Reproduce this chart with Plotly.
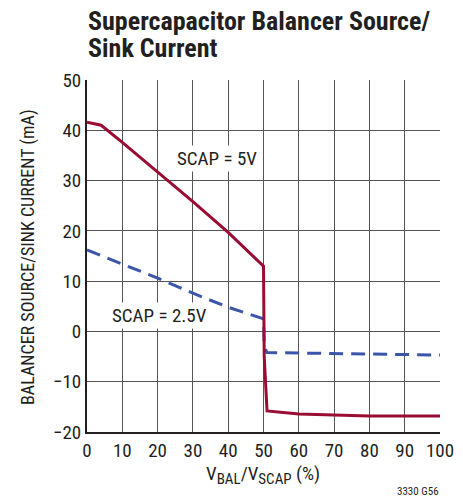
import plotly.graph_objects as go

# SCAP = 5V (red, solid)
x5 = [0, 4, 10, 20, 30, 40, 50, 50.2, 51, 60, 70, 80, 90, 100]
y5 = [41.6, 41.0, 37.6, 31.7, 25.8, 19.7, 13.0, -5.0, -15.8, -16.4, -16.6, -16.8, -16.8, -16.8]

# SCAP = 2.5V (blue, dashed)
x25 = [0, 10, 20, 30, 40, 50, 50.2, 51, 60, 70, 80, 90, 100]
y25 = [16.2, 13.4, 10.6, 7.6, 4.8, 2.5, -3.0, -4.2, -4.3, -4.4, -4.5, -4.6, -4.7]

x_ticks = [0, 10, 20, 30, 40, 50, 60, 70, 80, 90, 100]
y_ticks = [-20, -10, 0, 10, 20, 30, 40, 50]
y_ticktext = ["\u221220", "\u221210", "0", "10", "20", "30", "40", "50"]

FONT = "Liberation Sans Narrow, Roboto Condensed, Liberation Sans, Arial, sans-serif"
INK = "#231f20"

W, H = 463, 502
L, R, T, B = 87, 23, 80, 70
PH = H - T - B
PW = W - L - R

def py(p):  # pixel y -> paper y
    return (H - B - p) / PH

def px(p):  # pixel x -> paper x
    return (p - L) / PW

fig = go.Figure()
fig.add_trace(go.Scatter(x=x25, y=y25, mode="lines",
                         line=dict(color="#3b55a9", width=3, dash="14px,8px"),
                         showlegend=False))
fig.add_trace(go.Scatter(x=x5, y=y5, mode="lines",
                         line=dict(color="#9b0c34", width=3),
                         showlegend=False))

fig.add_annotation(x=36.8, y=34.4, text="SCAP = 5V", showarrow=False,
                   font=dict(size=19, color=INK, family=FONT),
                   bgcolor="white")
fig.add_annotation(x=20.5, y=3.2, text="SCAP = 2.5V", showarrow=False,
                   font=dict(size=19, color=INK, family=FONT),
                   bgcolor="white")

# title (two lines)
fig.add_annotation(xref="paper", yref="paper", x=px(86), y=py(21),
                   xanchor="left", yanchor="middle",
                   text="<b>Supercapacitor Balancer Source/</b>",
                   showarrow=False, font=dict(size=26, color=INK, family=FONT))
fig.add_annotation(xref="paper", yref="paper", x=px(86), y=py(48),
                   xanchor="left", yanchor="middle",
                   text="<b>Sink Current</b>",
                   showarrow=False, font=dict(size=26, color=INK, family=FONT))
# axis titles
fig.add_annotation(xref="paper", yref="paper", x=px(263), y=py(475),
                   xanchor="center", yanchor="middle",
                   text="V<sub><span style='font-size:15px'>BAL</span></sub>/V<sub><span style='font-size:15px'>SCAP</span></sub> (%)",
                   showarrow=False,
                   font=dict(size=19, color=INK, family=FONT))
fig.add_annotation(xref="paper", yref="paper", x=px(28), y=py(257),
                   xanchor="center", yanchor="middle", textangle=-90,
                   text="BALANCER SOURCE/SINK CURRENT (mA)", showarrow=False,
                   font=dict(size=18, color=INK, family=FONT))
# figure code
fig.add_annotation(xref="paper", yref="paper", x=px(441), y=py(500),
                   xanchor="right", yanchor="bottom", text="3330 G56",
                   showarrow=False, font=dict(size=11, color=INK, family=FONT))

fig.update_layout(
    width=W, height=H,
    margin=dict(l=L, r=R, t=T, b=B, autoexpand=False),
    paper_bgcolor="white", plot_bgcolor="white",
    font=dict(family=FONT, color=INK, size=19),
    xaxis=dict(range=[0, 100], tickvals=x_ticks, ticks="", showgrid=True,
               gridcolor="#555555", gridwidth=1, showline=True,
               linecolor=INK, linewidth=2, zeroline=False, automargin=False,
               tickfont=dict(size=19)),
    yaxis=dict(range=[-20, 50], tickvals=y_ticks, ticktext=y_ticktext,
               ticks="", showgrid=True, gridcolor="#555555", gridwidth=1,
               showline=True, linecolor=INK, linewidth=2, zeroline=False,
               automargin=False, tickfont=dict(size=19)),
)

fig.write_html("out.html", config={"displayModeBar": False},
               post_script="document.body.style.margin='0';")
